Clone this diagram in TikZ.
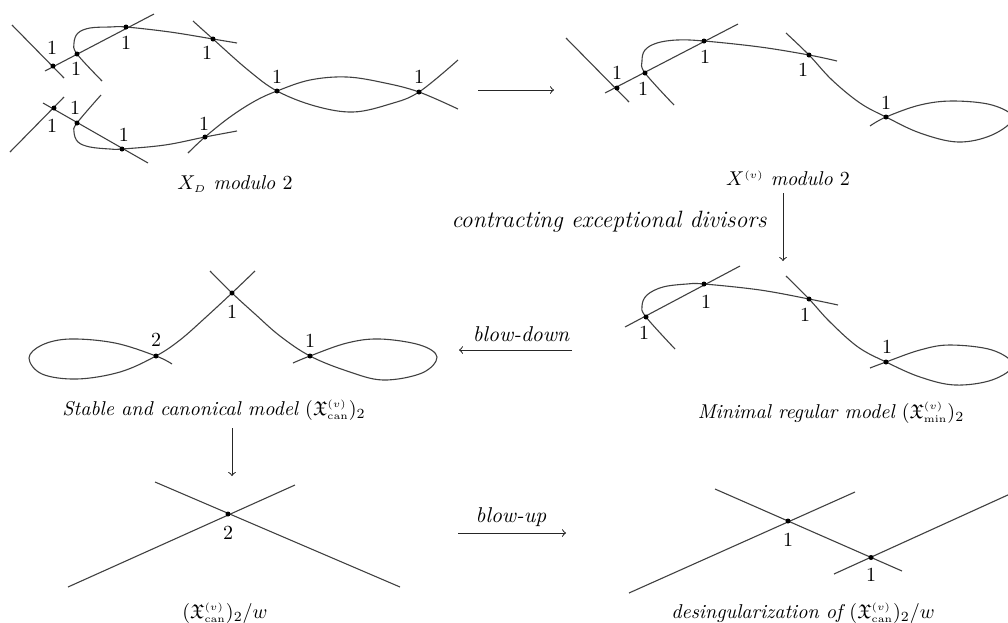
\documentclass[tikz,border=0pt]{standalone}
\usepackage{amssymb}
\begin{document}
\begin{tikzpicture}[x=0.5pt,y=-0.5pt,
  curve/.style={draw=black!75, line width=0.55pt},
  dot/.style={circle, fill=black, inner sep=0pt, minimum size=2.5pt},
  lbl/.style={inner sep=0pt},
  captxt/.style={inner sep=0pt, font=\itshape},
  arrtxt/.style={inner sep=0pt, font=\fontsize{10.7}{13}\selectfont\itshape},
  arr/.style={->, line width=0.5pt, draw=black!85}]
\useasboundingbox (0,0) rectangle (1008,622);

% ---------- top left: X_D modulo 2 ----------
\draw[curve] (12,25) -- (64,78);
\draw[curve] (45,71) -- (154,14);
\draw[curve] plot[smooth,tension=0.6] coordinates {(102,81) (77,54) (74,43) (78,33) (90,28) (110,27) (126,27) (170,32) (213,39) (237,43)};
\draw[curve] plot[smooth,tension=0.6] coordinates {(193,21) (213,39) (248,70) (277,91) (315,106) (353,112) (390,104) (419,92) (458,60)};
\draw[curve] plot[smooth,tension=0.6] coordinates {(188,153) (205,137) (230,117) (255,101) (277,91) (310,80) (347,77) (385,83) (419,92) (458,109)};
\draw[curve] (10,152) -- (64,97);
\draw[curve] (43,103) -- (148,163);
\draw[curve] plot[smooth,tension=0.6] coordinates {(101,95) (77,123) (74,132) (78,142) (90,147) (110,149) (122,149) (165,145) (205,137) (237,131)};
\foreach \n/\p in {a1/{(53,66)},a2/{(77,54)},a3/{(126,27)},a4/{(213,39)},a5/{(54,108)},a6/{(77,123)},a7/{(122,149)},a8/{(205,137)},a9/{(277,91)},a10/{(419,92)}}
  \node[dot] (\n) at \p {};
\node[lbl] (la1) at (52,48) {1};
\node[lbl] (la2) at (76,69) {1};
\node[lbl] (la3) at (126,43) {1};
\node[lbl] (la4) at (207,53) {1};
\node[lbl] (la5) at (52,126) {1};
\node[lbl] (la6) at (75,108) {1};
\node[lbl] (la7) at (124,135) {1};
\node[lbl] (la8) at (204,124) {1};
\node[lbl] (la9) at (277,77) {1};
\node[lbl] (la10) at (419,77) {1};
\node[captxt] (capA) at (235,184) {$X_{\scriptscriptstyle D}$ modulo $2$};

% ---------- top right: X^(v) modulo 2 ----------
\draw[curve] (566,38) -- (629,102);
\draw[curve] (605,93) -- (738,24);
\draw[curve] plot[smooth,tension=0.6] coordinates {(674,105) (645,73) (642,61) (645,50) (657,43) (677,40) (704,41) (760,47) (809,55) (837,61)};
\draw[curve] plot[smooth,tension=0.6] coordinates {(786,33) (809,55) (832,80) (860,103) (886,117) (920,133) (958,142) (992,135) (1013,118) (992,105) (953,101) (920,105) (886,117) (870,126)};
\foreach \n/\p in {b1/{(617,88)},b2/{(645,73)},b3/{(704,41)},b4/{(809,55)},b5/{(886,117)}}
  \node[dot] (\n) at \p {};
\node[lbl] (lb1) at (617,73) {1};
\node[lbl] (lb2) at (643,89) {1};
\node[lbl] (lb3) at (705,57) {1};
\node[lbl] (lb4) at (803,70) {1};
\node[lbl] (lb5) at (886,103) {1};
\node[captxt] (capB) at (788,178) {$X^{\scriptscriptstyle (v)}$ modulo $2$};

% ---------- middle right: minimal regular model ----------
\draw[curve] (625,327) -- (740,266);
\draw[curve] plot[smooth,tension=0.6] coordinates {(675,349) (646,317) (642,306) (647,295) (663,287) (687,284) (704,284) (760,290) (809,299) (838,305)};
\draw[curve] plot[smooth,tension=0.6] coordinates {(786,276) (809,299) (830,322) (858,347) (886,362) (920,377) (955,385) (992,380) (1013,365) (992,350) (950,345) (920,350) (886,362) (870,368)};
\foreach \n/\p in {c1/{(646,317)},c2/{(704,284)},c3/{(809,299)},c4/{(886,362)}}
  \node[dot] (\n) at \p {};
\node[lbl] (lc1) at (644,333) {1};
\node[lbl] (lc2) at (706,302) {1};
\node[lbl] (lc3) at (805,315) {1};
\node[lbl] (lc4) at (887,347) {1};
\node[captxt] (capC) at (831,413) {Minimal regular model $(\mathfrak{X}^{\scriptscriptstyle (v)}_{\scriptscriptstyle\mathrm{min}})_2$};

% ---------- middle left: stable and canonical model ----------
\draw[curve] plot[smooth,tension=0.6] coordinates {(255,271) (232,293) (205,318) (180,340) (156,356) (120,372) (77,379) (42,374) (29,358) (42,345) (70,339) (115,343) (156,356) (172,364)};
\draw[curve] plot[smooth,tension=0.6] coordinates {(210,271) (232,293) (255,314) (280,336) (310,356) (347,371) (383,380) (422,373) (437,357) (420,345) (380,339) (347,343) (310,356) (293,363)};
\foreach \n/\p in {d1/{(232,293)},d2/{(156,356)},d3/{(310,356)}}
  \node[dot] (\n) at \p {};
\node[lbl] (ld1) at (232,312) {1};
\node[lbl] (ld2) at (156,340) {2};
\node[lbl] (ld3) at (310,341) {1};
\node[captxt] (capD) at (214,410) {Stable and canonical model $(\mathfrak{X}^{\scriptscriptstyle (v)}_{\scriptscriptstyle\mathrm{can}})_2$};

% ---------- bottom left ----------
\draw[curve] (155,482) -- (400,587);
\draw[curve] (68,587) -- (295,485);
\node[dot] (e1) at (228,514) {};
\node[lbl] (le1) at (228,533) {2};
\node[captxt, anchor=base] (capE) at (225,618) {$(\mathfrak{X}^{\scriptscriptstyle (v)}_{\scriptscriptstyle\mathrm{can}})_2/w$};

% ---------- bottom right ----------
\draw[curve] (715,489) -- (902,571);
\draw[curve] (629,593) -- (855,492);
\draw[curve] (834,574) -- (1010,494);
\node[dot] (f1) at (788,521) {};
\node[dot] (f2) at (871,557.5) {};
\node[lbl] (lf1) at (788,540) {1};
\node[lbl] (lf2) at (871,575) {1};
\node[captxt, anchor=base] (capF) at (803,618) {desingularization of $(\mathfrak{X}^{\scriptscriptstyle (v)}_{\scriptscriptstyle\mathrm{can}})_2/w$};

% ---------- arrows ----------
\coordinate (t1) at (478,90);  \coordinate (t2) at (554,90);
\draw[arr] (t1) -- (t2);
\coordinate (r1) at (783,193); \coordinate (r2) at (783,261);
\draw[arr] (r1) -- (r2);
\node[inner sep=0pt, font=\fontsize{11.8}{14}\selectfont\itshape, anchor=east] (lr) at (767,222) {contracting exceptional divisors};
\coordinate (m1) at (572,350); \coordinate (m2) at (459,350);
\draw[arr] (m1) -- (m2);
\node[arrtxt] (lm) at (521,334) {blow-down};
\coordinate (l1) at (232,428); \coordinate (l2) at (232,476);
\draw[arr] (l1) -- (l2);
\coordinate (u1) at (458,533); \coordinate (u2) at (566,533);
\draw[arr] (u1) -- (u2);
\node[arrtxt] (lu) at (511,517) {blow-up};
\end{tikzpicture}
\end{document}
